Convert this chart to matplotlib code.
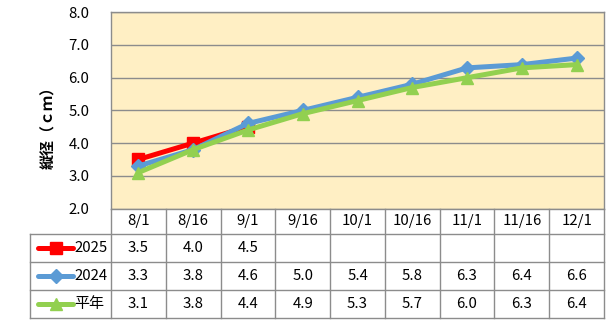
import matplotlib
matplotlib.use("Agg")
import matplotlib.pyplot as plt
import numpy as np

plt.rcParams['font.family'] = ['Noto Sans CJK JP', 'DejaVu Sans']

dates = ["8/1", "8/16", "9/1", "9/16", "10/1", "10/16", "11/1", "11/16", "12/1"]
v2025 = [3.5, 4.0, 4.5]
v2024 = [3.3, 3.8, 4.6, 5.0, 5.4, 5.8, 6.3, 6.4, 6.6]
normal = [3.1, 3.8, 4.4, 4.9, 5.3, 5.7, 6.0, 6.3, 6.4]
yticks = [2.0, 3.0, 4.0, 5.0, 6.0, 7.0, 8.0]

series = [
    ("2025", v2025, "#FF0000", "s", 8),
    ("2024", v2024, "#5B9BD5", "D", 7),
    ("平年", normal, "#92D050", "^", 9),
]

W, H = 616, 326
grid_col = "#8C8C8C"
fs = 10.8


def box(l, t, r, b):
    return [l / W, 1 - b / H, (r - l) / W, (b - t) / H]


fig = plt.figure(figsize=(W / 100, H / 100), dpi=100)

# chart area
left, right, top, bottom = 111, 604, 12.3, 208.5
ax = fig.add_axes(box(left, top, right, bottom))
ax.set_facecolor("#FFEFC4")
x = np.arange(len(dates))
for z, (name, vals, col, mk, ms) in enumerate(series):
    ax.plot(x[:len(vals)], vals, color=col, lw=3.6, marker=mk, ms=ms,
            mec=col, zorder=3 + z, solid_capstyle="butt")
ax.set_xlim(-0.5, len(dates) - 0.5)
ax.set_ylim(2, 8)
ax.set_yticks(yticks)
ax.set_yticklabels([f"{v:.1f}" for v in yticks], fontsize=fs)
ax.set_xticks([])
ax.tick_params(axis="y", length=0, pad=15.5)
ax.yaxis.grid(True, color=grid_col, lw=1)
ax.set_axisbelow(True)
for s in ax.spines.values():
    s.set_color(grid_col)
    s.set_linewidth(1)

fig.text(48 / W, 1 - 124 / H, "縦径（ｃｍ）", rotation=90, ha="center",
         va="center", fontsize=fs, fontweight="bold")

# data table under the chart
colw = (right - left) / len(dates)
tleft = 30
legw = (left - tleft) / colw
rows_y = [0, 25.5, 53.5, 81.5, 109.5]
tax = fig.add_axes(box(tleft, bottom, right, bottom + rows_y[-1]))
tax.set_xlim(-0.5 - legw, len(dates) - 0.5)
tax.set_ylim(rows_y[-1], 0)
tax.axis("off")


def to_x(p):
    return -0.5 + (p - left) / colw


lk = dict(color=grid_col, lw=1, clip_on=False)
xmin = -0.5 - legw
xmax = len(dates) - 0.5
for k in range(len(dates) + 1):
    tax.plot([k - 0.5, k - 0.5], [rows_y[0], rows_y[-1]], **lk)
tax.plot([xmin, xmin], [rows_y[1], rows_y[-1]], **lk)
for yy in rows_y[1:]:
    tax.plot([xmin, xmax], [yy, yy], **lk)

hy = (rows_y[0] + rows_y[1]) / 2
for k, d in enumerate(dates):
    tax.text(k, hy, d, ha="center", va="center", fontsize=fs)

for r, (name, vals, col, mk, ms) in enumerate(series):
    cy = (rows_y[r + 1] + rows_y[r + 2]) / 2
    tax.plot([to_x(37.7), to_x(72.7)], [cy, cy], color=col, lw=3.6,
             solid_capstyle="round", clip_on=False)
    tax.plot([to_x(56)], [cy], color=col, marker=mk, ms=ms, mec=col,
             clip_on=False)
    tax.text(to_x(74), cy, name, ha="left", va="center", fontsize=fs)
    for k, v in enumerate(vals):
        tax.text(k, cy, f"{v:.1f}", ha="center", va="center", fontsize=fs)

fig.savefig("out.png", dpi=100, facecolor="white")
